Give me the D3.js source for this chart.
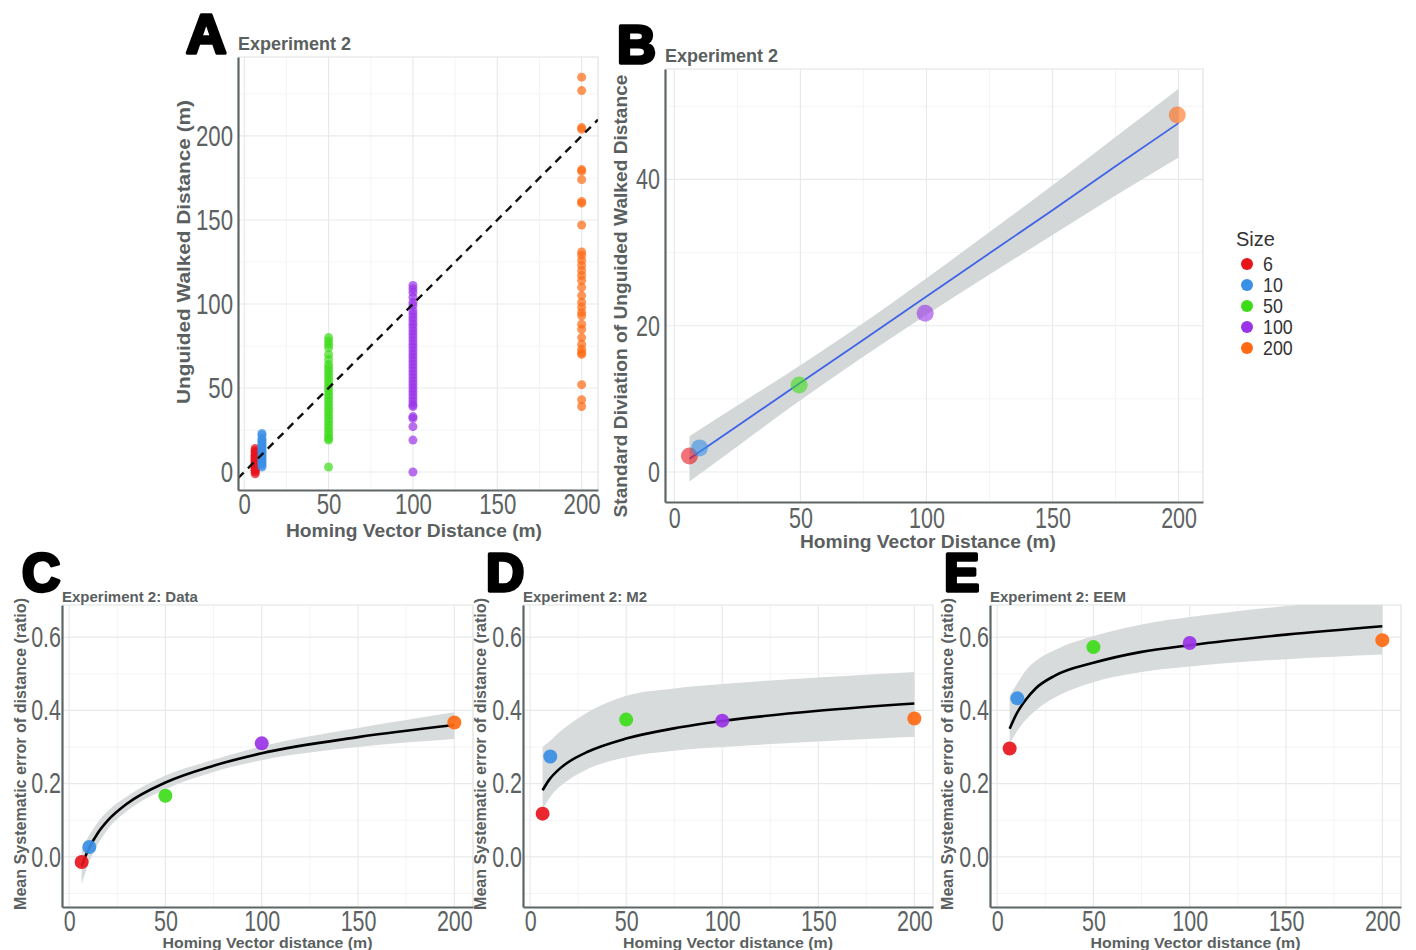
<!DOCTYPE html>
<html>
<head>
<meta charset="utf-8">
<script src="https://cdn.jsdelivr.net/npm/d3@7"></script>
<style>
body { margin: 0; background: #fff; }
text { font-family: "Liberation Sans", Arial, sans-serif; }
</style>
</head>
<body>
<div id="fig"></div>
<script>
// ---- data ----
var sizes = ["6", "10", "50", "100", "200"];
var sizeColors = ["#e8141c", "#3a8fe6", "#3ddc1a", "#9a33e8", "#ff6a13"];
var distX = [6.5, 10.5, 50, 100, 200];

// panel A: unguided walked distance per trial (m)
var walked6 = [14, 13, 12, 12, 11, 10, 10, 9, 9, 8, 8, 7, 7, 6, 6, 5, 5, 4, 4, 3, 3, 2, 2, 1, 1, 0, -1];
var walked10 = [23, 22, 20, 19, 18, 17, 16, 15, 14, 13, 12, 11, 10, 9, 8, 7, 6, 5, 4, 3];
var walked50 = [80, 78, 76, 74, 70, 67, 64, 62, 60, 58, 56, 54, 52, 50, 48, 46, 44, 42, 40, 38, 36, 34, 32, 30, 28, 26, 24, 22, 20, 19, 3];
var walked100 = [111, 109, 107, 104, 101, 99, 96, 94, 92, 90, 88, 86, 84, 82, 80, 78, 76, 74, 72, 70, 68, 66, 64, 62, 60, 58, 56, 54, 52, 50, 48, 46, 44, 42, 40, 39, 33, 32, 27, 19, 0];
var walked200 = [235, 227, 205, 204, 180, 179, 174, 161, 160, 147, 131, 129, 126, 123, 120, 117, 114, 110, 105, 101, 98, 95, 93, 88, 85, 80, 76, 73, 71, 70, 52, 43, 39];

// panel B: SD of walked distance, linear fit and 95% band
var sdWalked = [2.2, 3.3, 11.9, 21.7, 48.8];
var fitBx = [6, 25, 50, 73, 100, 125, 150, 175, 200];
var fitBy = [1.8, 6.3, 12.2, 17.6, 24.0, 29.9, 35.8, 41.8, 47.7];
var fitBlo = [-1.3, 3.5, 9.8, 15.3, 21.5, 27.0, 32.4, 37.8, 43.0];
var fitBhi = [4.9, 9.1, 14.6, 19.9, 26.5, 32.8, 39.2, 45.8, 52.4];

// panels C-E: mean systematic error (ratio), fitted curve and band
var meanErrData = [-0.014, 0.027, 0.167, 0.31, 0.367];
var meanErrM2 = [0.118, 0.274, 0.375, 0.372, 0.378];
var meanErrEEM = [0.296, 0.433, 0.573, 0.584, 0.592];
var fitX = [6.5, 10, 15, 20, 30, 50, 75, 100, 150, 200];
var fitDataY = [-0.025, 0.02, 0.066, 0.099, 0.145, 0.203, 0.249, 0.283, 0.327, 0.36];
var fitDataLo = [-0.075, -0.02, 0.035, 0.075, 0.125, 0.185, 0.232, 0.264, 0.300, 0.322];
var fitDataHi = [0.025, 0.055, 0.095, 0.125, 0.165, 0.222, 0.265, 0.302, 0.352, 0.395];
var fitM2Y = [0.182, 0.211, 0.239, 0.259, 0.287, 0.323, 0.351, 0.371, 0.399, 0.419];
var fitM2Lo = [0.128, 0.16, 0.19, 0.21, 0.24, 0.272, 0.29, 0.30, 0.315, 0.328];
var fitM2Hi = [0.30, 0.315, 0.34, 0.36, 0.395, 0.44, 0.46, 0.472, 0.49, 0.505];
var fitEEMY = [0.35, 0.39, 0.43, 0.46, 0.495, 0.53, 0.56, 0.578, 0.607, 0.63];
var fitEEMLo = [0.31, 0.34, 0.375, 0.40, 0.435, 0.477, 0.505, 0.52, 0.54, 0.553];
var fitEEMHi = [0.44, 0.47, 0.51, 0.535, 0.565, 0.603, 0.635, 0.655, 0.685, 0.705];

var xTicks = [0, 50, 100, 150, 200];
var xMinor = [25, 75, 125, 175];

// ---- setup ----
var svg = d3.select("#fig").append("svg")
    .attr("width", 1416)
    .attr("height", 950);
svg.append("rect").attr("width", 1416).attr("height", 950).attr("fill", "#fff");

var axisCol = "#5e6565";
var titleCol = "#5a6060";

function condense(sel, f) {
    sel.each(function () {
        var w = this.getComputedTextLength();
        d3.select(this).attr("textLength", w * f).attr("lengthAdjust", "spacingAndGlyphs");
    });
}

var clipId = 0;
function makePanel(c) {
    var x = d3.scaleLinear().domain(c.xDomain).range([c.left, c.right]);
    var y = d3.scaleLinear().domain(c.yDomain).range([c.bottom, c.top]);
    var g = svg.append("g");

    // gridlines
    g.selectAll(".minx").data(c.xMinor).enter().append("line")
        .attr("x1", d => x(d)).attr("x2", d => x(d))
        .attr("y1", c.top).attr("y2", c.bottom)
        .attr("stroke", "#f4f4f4").attr("stroke-width", 1);
    g.selectAll(".miny").data(c.yMinor).enter().append("line")
        .attr("y1", d => y(d)).attr("y2", d => y(d))
        .attr("x1", c.left).attr("x2", c.right)
        .attr("stroke", "#f4f4f4").attr("stroke-width", 1);
    g.selectAll(".majx").data(c.xTicks).enter().append("line")
        .attr("x1", d => x(d)).attr("x2", d => x(d))
        .attr("y1", c.top).attr("y2", c.bottom)
        .attr("stroke", "#e8eaea").attr("stroke-width", 1.2);
    g.selectAll(".majy").data(c.yTicks).enter().append("line")
        .attr("y1", d => y(d)).attr("y2", d => y(d))
        .attr("x1", c.left).attr("x2", c.right)
        .attr("stroke", "#e8eaea").attr("stroke-width", 1.2);

    // frame top/right
    g.append("path")
        .attr("d", `M${c.left},${c.top}H${c.right}V${c.bottom}`)
        .attr("fill", "none").attr("stroke", "#e0e3e3").attr("stroke-width", 1.2);

    clipId++;
    svg.append("clipPath").attr("id", "clip" + clipId)
        .append("rect").attr("x", c.left).attr("y", c.top)
        .attr("width", c.right - c.left).attr("height", c.bottom - c.top);
    var plot = svg.append("g").attr("clip-path", `url(#clip${clipId})`);

    // axes
    var xa = svg.append("g").attr("transform", `translate(0,${c.bottom})`)
        .call(d3.axisBottom(x).tickValues(c.xTicks).tickSize(0).tickPadding(c.xPad));
    var ya = svg.append("g").attr("transform", `translate(${c.left},0)`)
        .call(d3.axisLeft(y).tickValues(c.yTicks).tickFormat(c.yFormat).tickSize(0).tickPadding(c.yPad));
    [xa, ya].forEach(function (a) {
        a.select(".domain").attr("stroke", axisCol).attr("stroke-width", 2.2);
        a.selectAll("text").attr("font-size", c.tickSize).attr("fill", "#5c6262")
            .attr("font-family", "'Liberation Sans', Arial, sans-serif");
        condense(a.selectAll("text"), 0.74);
    });

    return { x: x, y: y, plot: plot, g: g };
}

function label(txt, x, y, size, opts) {
    opts = opts || {};
    var t = svg.append("text")
        .attr("x", x).attr("y", y)
        .attr("font-size", size)
        .attr("font-weight", opts.weight || "bold")
        .attr("fill", opts.fill || titleCol)
        .attr("text-anchor", opts.anchor || "start")
        .text(txt);
    if (opts.len) t.attr("textLength", opts.len).attr("lengthAdjust", "spacingAndGlyphs");
    if (opts.rotate) t.attr("transform", `rotate(-90,${x},${y})`);
    return t;
}

function bigLetter(txt, x, y, size) {
    svg.append("text").attr("x", x).attr("y", y)
        .attr("font-size", size).attr("font-weight", "bold")
        .attr("fill", "#000").attr("stroke", "#000").attr("stroke-width", 3.5)
        .attr("stroke-linejoin", "round")
        .text(txt);
}

// ---- panel A ----
var xDom = [-3.7, 209.7];
var pA = makePanel({
    left: 238, right: 598, top: 57, bottom: 490,
    xDomain: xDom, yDomain: [-10.7, 247],
    xTicks: xTicks, xMinor: xMinor,
    yTicks: [0, 50, 100, 150, 200], yMinor: [25, 75, 125, 175, 225],
    yFormat: d3.format("d"), tickSize: 30, xPad: 3, yPad: 5
});
var walkedAll = [walked6, walked10, walked50, walked100, walked200];
walkedAll.forEach(function (vals, i) {
    pA.plot.selectAll(".pa" + i).data(vals).enter().append("circle")
        .attr("cx", pA.x(distX[i]))
        .attr("cy", d => pA.y(d))
        .attr("r", 4.5)
        .attr("fill", sizeColors[i])
        .attr("fill-opacity", 0.7);
});
pA.plot.append("line")
    .attr("x1", pA.x(xDom[0])).attr("y1", pA.y(xDom[0]))
    .attr("x2", pA.x(xDom[1])).attr("y2", pA.y(xDom[1]))
    .attr("stroke", "#111").attr("stroke-width", 2.4).attr("stroke-dasharray", "8,6");

bigLetter("A", 186, 53, 56);
label("Experiment 2", 238, 50, 18);
label("Homing Vector Distance (m)", 414, 537, 19, { anchor: "middle", len: 256 });
label("Unguided Walked Distance (m)", 190, 252, 19, { anchor: "middle", rotate: true, len: 304 });

// ---- panel B ----
var pB = makePanel({
    left: 665, right: 1203, top: 69, bottom: 502,
    xDomain: xDom, yDomain: [-4.1, 55.1],
    xTicks: xTicks, xMinor: xMinor,
    yTicks: [0, 20, 40], yMinor: [10, 30, 50],
    yFormat: d3.format("d"), tickSize: 29, xPad: 5, yPad: 5
});
var bandB = fitBx.map((d, i) => ({ x: d, lo: fitBlo[i], hi: fitBhi[i], y: fitBy[i] }));
pB.plot.append("path").datum(bandB)
    .attr("d", d3.area().x(d => pB.x(d.x)).y0(d => pB.y(d.lo)).y1(d => pB.y(d.hi)).curve(d3.curveMonotoneX))
    .attr("fill", "#d3d7d7");
pB.plot.append("path").datum(bandB)
    .attr("d", d3.line().x(d => pB.x(d.x)).y(d => pB.y(d.y)))
    .attr("fill", "none").attr("stroke", "#3f63e8").attr("stroke-width", 1.8);
pB.plot.selectAll(".pb").data(sdWalked).enter().append("circle")
    .attr("cx", (d, i) => pB.x(distX[i] - 0.5))
    .attr("cy", d => pB.y(d))
    .attr("r", 8.5)
    .attr("fill", (d, i) => sizeColors[i])
    .attr("fill-opacity", 0.6);

bigLetter("B", 617, 63, 54);
label("Experiment 2", 665, 62, 18);
label("Homing Vector Distance (m)", 928, 548, 18.5, { anchor: "middle", len: 256 });
label("Standard Diviation of Unguided Walked Distance", 627, 296, 19, { anchor: "middle", rotate: true, len: 443 });

// legend
label("Size", 1236, 246, 20, { weight: "normal", fill: "#333" });
var legG = svg.append("g");
var legY = d3.scalePoint().domain(sizes).range([264, 348]);
legG.selectAll("circle").data(sizes).enter().append("circle")
    .attr("cx", 1247).attr("cy", d => legY(d)).attr("r", 6)
    .attr("fill", (d, i) => sizeColors[i]);
var legT = legG.selectAll("text").data(sizes).enter().append("text")
    .attr("x", 1263).attr("y", d => legY(d) + 7)
    .attr("font-size", 21).attr("fill", "#333")
    .text(d => d);
condense(legT, 0.85);

// ---- panels C, D, E ----
var lowerPanels = [
    { letter: "C", lx: 22, left: 62, right: 473, sub: "Experiment 2: Data", pts: meanErrData, fy: fitDataY, flo: fitDataLo, fhi: fitDataHi, ytx: 26 },
    { letter: "D", lx: 486, left: 523, right: 933, sub: "Experiment 2: M2", pts: meanErrM2, fy: fitM2Y, flo: fitM2Lo, fhi: fitM2Hi, ytx: 486 },
    { letter: "E", lx: 944, left: 990, right: 1401, sub: "Experiment 2: EEM", pts: meanErrEEM, fy: fitEEMY, flo: fitEEMLo, fhi: fitEEMHi, ytx: 953 }
];
lowerPanels.forEach(function (c) {
    var p = makePanel({
        left: c.left, right: c.right, top: 605, bottom: 907,
        xDomain: xDom, yDomain: [-0.137, 0.688],
        xTicks: xTicks, xMinor: xMinor,
        yTicks: [0, 0.2, 0.4, 0.6], yMinor: [-0.1, 0.1, 0.3, 0.5],
        yFormat: d3.format(".1f"), tickSize: 29, xPad: 3, yPad: 1
    });
    var rows = fitX.map((d, i) => ({ x: d, y: c.fy[i], lo: c.flo[i], hi: c.fhi[i] }));
    p.plot.append("path").datum(rows)
        .attr("d", d3.area().x(d => p.x(d.x)).y0(d => p.y(d.lo)).y1(d => p.y(d.hi)).curve(d3.curveMonotoneX))
        .attr("fill", "#d8dbdb");
    p.plot.append("path").datum(rows)
        .attr("d", d3.line().x(d => p.x(d.x)).y(d => p.y(d.y)).curve(d3.curveMonotoneX))
        .attr("fill", "none").attr("stroke", "#000").attr("stroke-width", 2.6);
    p.plot.selectAll(".pt").data(c.pts).enter().append("circle")
        .attr("cx", (d, i) => p.x(distX[i]))
        .attr("cy", d => p.y(d))
        .attr("r", 7)
        .attr("fill", (d, i) => sizeColors[i])
        .attr("fill-opacity", 0.92);

    bigLetter(c.letter, c.lx, 591, 53);
    label(c.sub, c.left, 602, 15);
    label("Homing Vector distance (m)", (c.left + c.right) / 2, 948, 15.5, { anchor: "middle", len: 210 });
    label("Mean Systematic error of distance (ratio)", c.ytx, 754, 16, { anchor: "middle", rotate: true, len: 312 });
});
</script>
</body>
</html>
